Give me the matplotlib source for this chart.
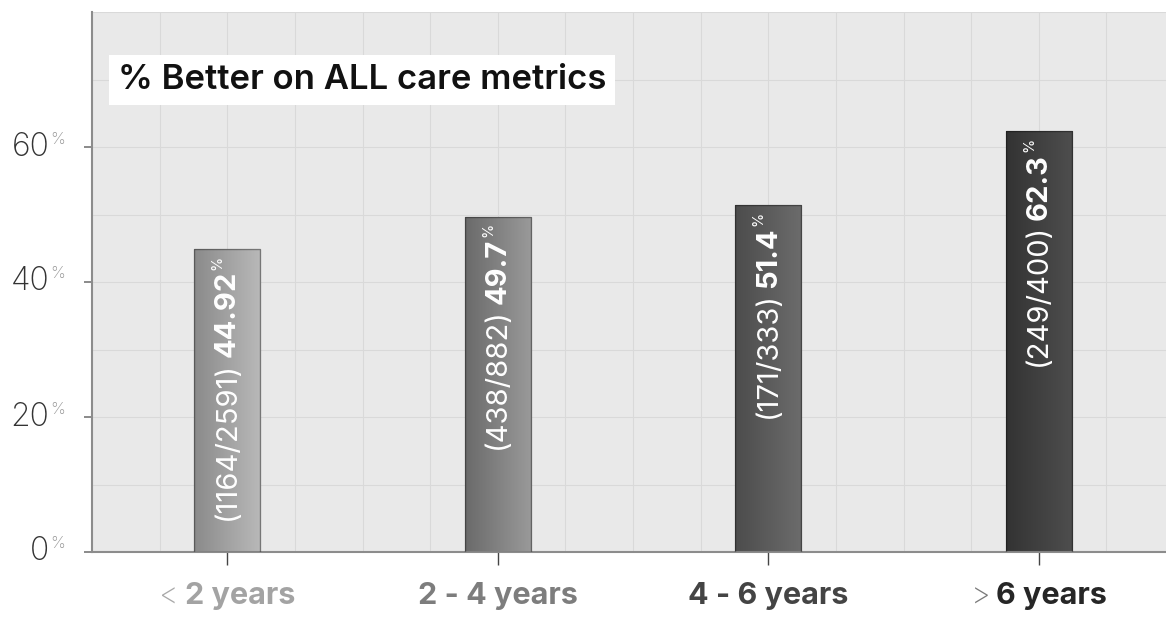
import numpy as np
import matplotlib
matplotlib.use("Agg")
import matplotlib.pyplot as plt
from matplotlib.ticker import MultipleLocator
from matplotlib.colors import LinearSegmentedColormap
from matplotlib.offsetbox import TextArea, HPacker, AnnotationBbox

# data
prefixes = ["<", "", "", ">"]
categories = ["2 years", "2 - 4 years", "4 - 6 years", "6 years"]
pct_better = [44.92, 49.7, 51.4, 62.3]
n_better = [1164, 438, 171, 249]
n_total = [2591, 882, 333, 400]
y_ticks = [0, 20, 40, 60]
title = "% Better on ALL care metrics"

# style
FONT = ["Inter", "DejaVu Sans"]
BAR_GRADIENTS = [("#8a8a8a", "#b9b9b9"), ("#6a6a6a", "#9a9a9a"),
                 ("#4c4c4c", "#6c6c6c"), ("#333333", "#4e4e4e")]
LABEL_COLORS = ["#a3a3a3", "#7d7d7d", "#444444", "#262626"]
PREFIX_COLORS = ["#a8a8a8", "#999999", "#777777", "#7a7a7a"]

W, H = 1166, 617
fig = plt.figure(figsize=(W / 100, H / 100), dpi=100)
ax = fig.add_axes([92 / W, 65 / H, 1074 / W, 540 / H])
ax.set_facecolor("#e9e9e9")

x = np.arange(len(categories))
bars = ax.bar(x, pct_better, width=0.245, color="none",
              edgecolor=(0, 0, 0, 0.35), linewidth=1.0, zorder=3)

# horizontal gradient fill, clipped to each bar
grad = np.linspace(0, 1, 256).reshape(1, -1)
for bar, (c0, c1) in zip(bars, BAR_GRADIENTS):
    cmap = LinearSegmentedColormap.from_list("g", [c0, c1])
    x0, y0 = bar.get_xy()
    im = ax.imshow(grad, extent=(x0, x0 + bar.get_width(), y0, y0 + bar.get_height()),
                   cmap=cmap, aspect="auto", zorder=2.5)
    im.set_clip_path(bar)

ax.set_xlim(-0.5, 3.47)
ax.set_ylim(0, 80)

# grid
ax.set_axisbelow(True)
ax.set_xticks(x)
ax.set_yticks(y_ticks)
ax.xaxis.set_minor_locator(MultipleLocator(0.25))
ax.yaxis.set_minor_locator(MultipleLocator(10))
ax.grid(which="both", color="#d9d9d9", linewidth=0.8)
ax.tick_params(which="minor", length=0)
ax.tick_params(axis="y", which="major", length=6, width=1.2, color="#777777")
ax.tick_params(axis="x", which="major", length=9, width=1.0, color="#444444")
ax.set_xticklabels([])
ax.set_yticklabels([])

for side in ["top", "right"]:
    ax.spines[side].set_visible(False)
for side in ["left", "bottom"]:
    ax.spines[side].set_color("#8c8c8c")
    ax.spines[side].set_linewidth(1.5)

# y tick labels: number + small superscript %
for v in y_ticks:
    box = HPacker(children=[
        TextArea(str(v), textprops=dict(fontsize=23, color="#333333", family=FONT, fontweight="light")),
        TextArea("%", textprops=dict(fontsize=12, color="#999999", family=FONT, fontweight="light")),
    ], align="top", pad=0, sep=1)
    ab = AnnotationBbox(box, (0, v), xycoords=("axes fraction", "data"),
                        xybox=(-19, 0), boxcoords="offset points",
                        box_alignment=(1, 0.5), frameon=False, annotation_clip=False)
    ax.add_artist(ab)

# x tick labels: light prefix + bold label
for i, (pre, cat) in enumerate(zip(prefixes, categories)):
    parts = []
    if pre:
        parts.append(TextArea(pre, textprops=dict(fontsize=22, color=PREFIX_COLORS[i],
                                                  family=FONT, fontweight="light")))
    parts.append(TextArea(cat, textprops=dict(fontsize=22, color=LABEL_COLORS[i],
                                              family=FONT, fontweight="bold")))
    box = HPacker(children=parts, align="baseline", pad=0, sep=4)
    ab = AnnotationBbox(box, (i, 0), xycoords=("data", "axes fraction"),
                        xybox=(0, -32), boxcoords="offset points",
                        box_alignment=(0.5, 0.5), frameon=False, annotation_clip=False)
    ax.add_artist(ab)

# rotated labels inside bars
for i, v in enumerate(pct_better):
    t_val = ax.annotate(f"{v:g}", xy=(i, v), xytext=(0, -16), textcoords="offset points",
                        rotation=90, ha="center", va="top", color="white",
                        fontsize=21, fontweight="bold", family=FONT, zorder=4)
    ax.annotate("%", xy=(0.15, 1), xycoords=t_val, xytext=(0, 1), textcoords="offset points",
                rotation=90, ha="center", va="bottom", color="white",
                fontsize=10.5, family=FONT, zorder=4)
    ax.annotate(f"({n_better[i]}/{n_total[i]})", xy=(0.5, 0), xycoords=t_val,
                xytext=(0, -3), textcoords="offset points",
                rotation=90, ha="center", va="top", color="white",
                fontsize=21, family=FONT, zorder=4)

# title box
ax.text(0.024, 0.874, title, transform=ax.transAxes, ha="left", va="center",
        fontsize=25, fontweight="semibold", family=FONT, color="#111111",
        bbox=dict(boxstyle="square,pad=0.25", facecolor="white", edgecolor="none"))

fig.savefig("out.png", dpi=100)
